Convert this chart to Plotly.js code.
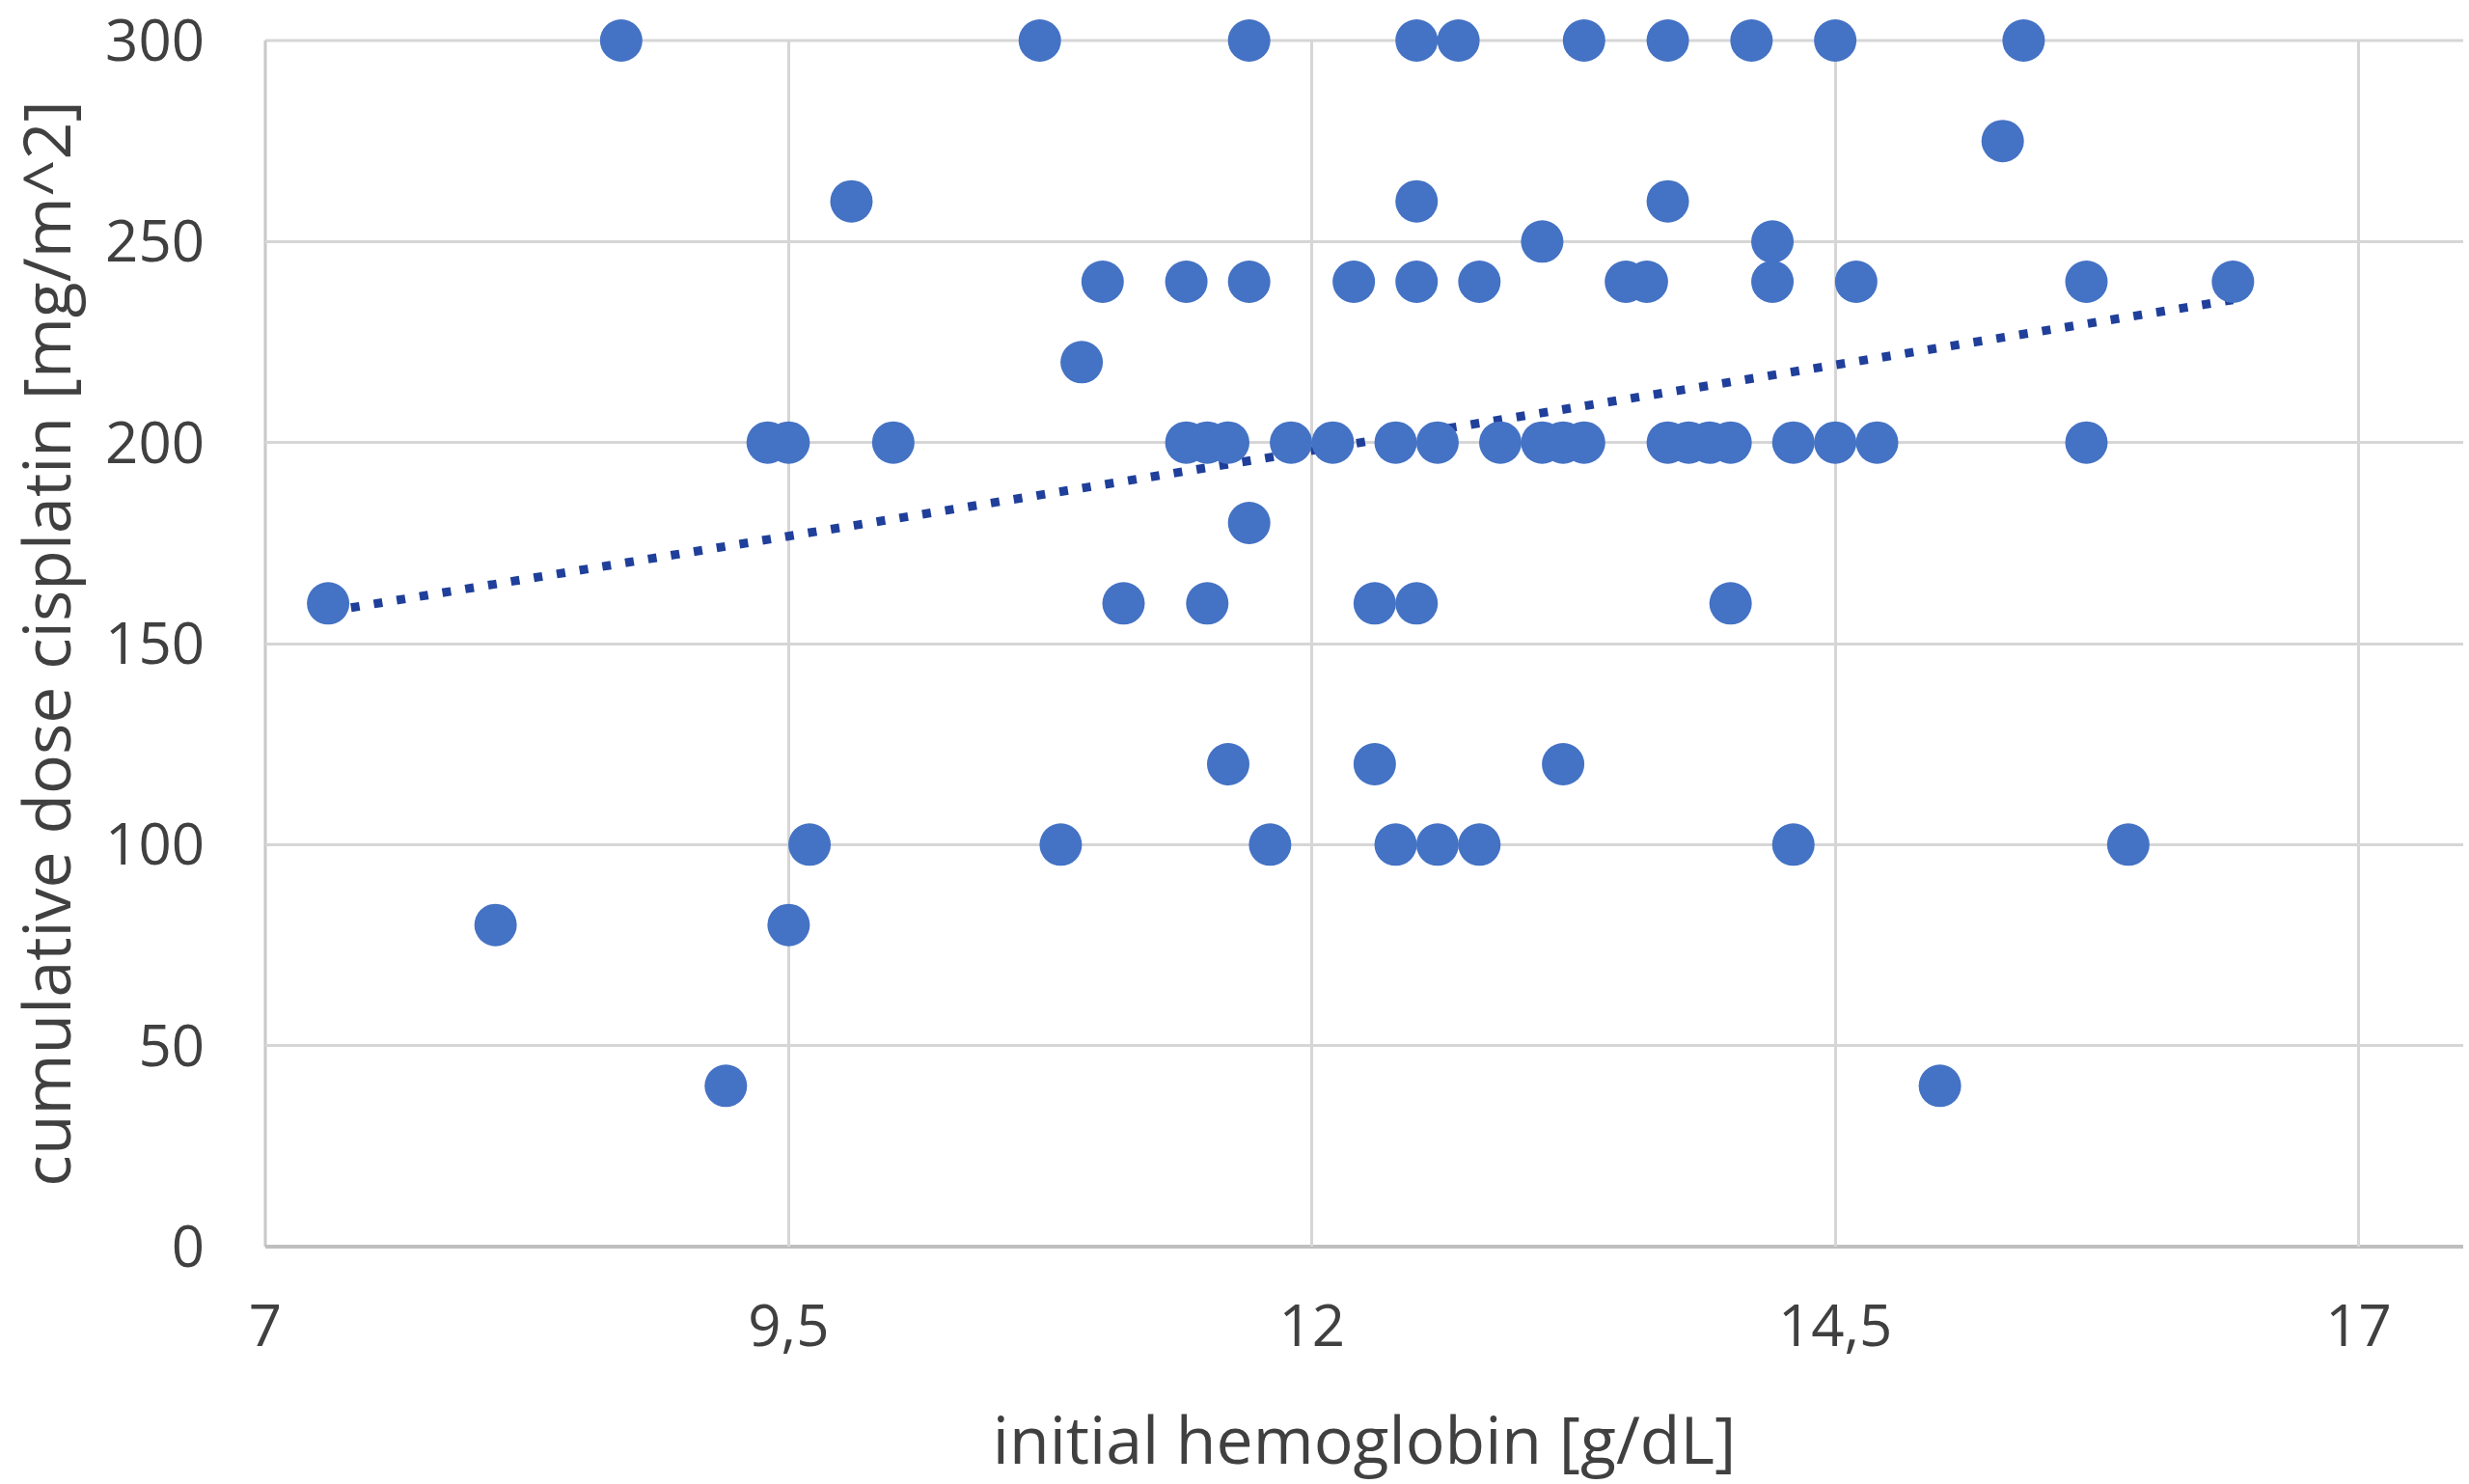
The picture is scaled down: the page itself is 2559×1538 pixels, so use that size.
<!DOCTYPE html>
<html>
<head>
<meta charset="utf-8">
<script src="https://cdn.plot.ly/plotly-3.0.1.min.js"></script>
<style>
html, body { margin: 0; padding: 0; background: #ffffff; }
#chart { width: 2559px; height: 1538px; }
</style>
</head>
<body>
<div id="chart"></div>
<script>
// initial hemoglobin [g/dL]
var hemoglobin = [
  8.7, 10.7, 11.7, 12.5, 12.7, 13.3, 13.7, 14.1, 14.5, 15.4,
  15.3,
  9.8, 12.5, 13.7,
  13.1, 14.2,
  11.0, 11.4, 11.7, 12.2, 12.5, 12.8, 13.5, 13.6, 14.2, 14.6, 15.7, 16.4,
  10.9,
  9.4, 9.5, 10.0, 11.4, 11.5, 11.6, 11.9, 12.1, 12.4, 12.6, 12.9, 13.1, 13.2, 13.3, 13.7, 13.8, 13.9, 14.0, 14.3, 14.5, 14.7, 15.7,
  11.7,
  7.3, 11.1, 11.5, 12.3, 12.5, 14.0,
  11.6, 12.3, 13.2,
  9.6, 10.8, 11.8, 12.4, 12.6, 12.8, 14.3, 15.9,
  8.1, 9.5,
  9.2, 15.0
];
// cumulative dose cisplatin [mg/m^2]
var cisplatinDose = [
  300, 300, 300, 300, 300, 300, 300, 300, 300, 300,
  275,
  260, 260, 260,
  250, 250,
  240, 240, 240, 240, 240, 240, 240, 240, 240, 240, 240, 240,
  220,
  200, 200, 200, 200, 200, 200, 200, 200, 200, 200, 200, 200, 200, 200, 200, 200, 200, 200, 200, 200, 200, 200,
  180,
  160, 160, 160, 160, 160, 160,
  120, 120, 120,
  100, 100, 100, 100, 100, 100, 100, 100,
  80, 80,
  40, 40
];
// linear trendline (start and end of the dotted line)
var trendlineX = [7.3, 16.4];
var trendlineY = [158, 235.5];

var xTickValues = [7, 9.5, 12, 14.5, 17];
var xTickLabels = ['7', '9,5', '12', '14,5', '17'];
var yTickValues = [0, 50, 100, 150, 200, 250, 300];
var yTickLabels = ['0', '50', '100', '150', '200', '250', '300'];

var textColor = '#404040';
var gridColor = '#d6d6d6';
var fontFamily = '"Open Sans", "Noto Sans", sans-serif';

var traces = [
  {
    x: trendlineX, y: trendlineY, type: 'scatter', mode: 'lines',
    line: { color: '#1f3f9a', width: 9, dash: '9px,15px' },
    hoverinfo: 'skip', showlegend: false
  },
  {
    x: hemoglobin, y: cisplatinDose, type: 'scatter', mode: 'markers',
    marker: { size: 44, color: '#4472C4', line: { width: 0 } },
    cliponaxis: false, showlegend: false
  }
];

var layout = {
  width: 2559, height: 1538,
  paper_bgcolor: '#ffffff', plot_bgcolor: '#ffffff',
  margin: { l: 275, r: 6, t: 42, b: 246 },
  font: { family: fontFamily, color: textColor, size: 60 },
  showlegend: false,
  xaxis: {
    range: [7, 17.5], autorange: false,
    tickmode: 'array', tickvals: xTickValues, ticktext: xTickLabels,
    showgrid: true, gridcolor: gridColor, gridwidth: 3,
    zeroline: false, showline: false, ticks: '',
    ticklabelstandoff: 42, ticklabeloverflow: 'allow',
    tickfont: { family: fontFamily, size: 60, color: textColor },
    title: { text: 'initial hemoglobin [g/dL]', standoff: 57,
             font: { family: fontFamily, size: 68, color: textColor } },
    automargin: false
  },
  yaxis: {
    range: [0, 300], autorange: false,
    tickmode: 'array', tickvals: yTickValues, ticktext: yTickLabels,
    showgrid: true, gridcolor: gridColor, gridwidth: 3,
    zeroline: false, showline: false, ticks: '',
    ticklabelstandoff: 62, ticklabeloverflow: 'allow',
    tickfont: { family: fontFamily, size: 60, color: textColor },
    title: { text: 'cumulative dose cisplatin [mg/m^2]', standoff: 43,
             font: { family: fontFamily, size: 68, color: textColor } },
    automargin: false
  },
  shapes: [
    // grid lines that sit on the plot edges (Plotly omits edge grid lines)
    { type: 'line', xref: 'paper', yref: 'paper', x0: 0, x1: 1, y0: 1, y1: 1,
      line: { color: gridColor, width: 3 }, layer: 'below' },
    { type: 'line', xref: 'paper', yref: 'paper', x0: 0, x1: 0, y0: 0, y1: 1,
      line: { color: '#c8c8c8', width: 3 }, layer: 'below' },
    // horizontal axis line
    { type: 'line', xref: 'paper', yref: 'paper', x0: 0, x1: 1, y0: 0, y1: 0,
      line: { color: '#bfbfbf', width: 4 }, layer: 'below' }
  ]
};

Plotly.newPlot('chart', traces, layout, { staticPlot: true, displayModeBar: false });
</script>
</body>
</html>
